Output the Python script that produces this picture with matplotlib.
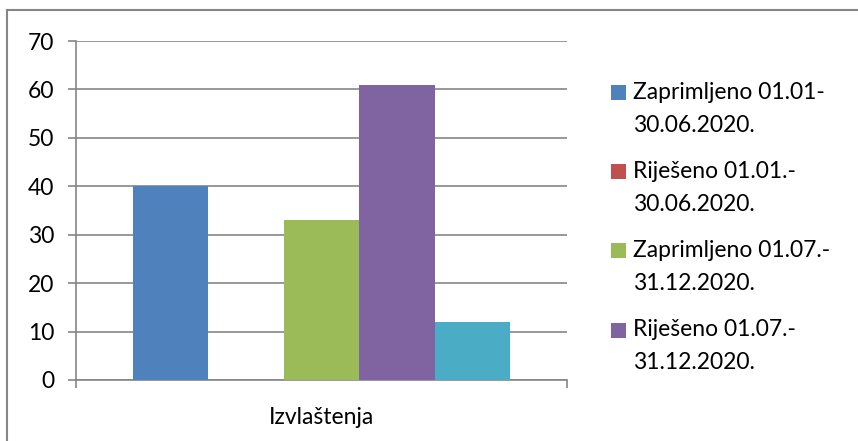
import matplotlib

matplotlib.use("Agg")
import matplotlib.pyplot as plt
from matplotlib.legend_handler import HandlerBase
from matplotlib.lines import Line2D
from matplotlib.patches import Patch, Rectangle

plt.rcParams["font.family"] = ["Lato", "DejaVu Sans"]

CATEGORY = "Izvlaštenja"
SERIES_LABELS = [
    "Zaprimljeno 01.01-\n30.06.2020.",
    "Riješeno 01.01.-\n30.06.2020.",
    "Zaprimljeno 01.07.-\n31.12.2020.",
    "Riješeno 01.07.-\n31.12.2020.",
    "",
]
SERIES_VALUES = [40, 0, 33, 61, 12]
SERIES_COLORS = ["#4F81BD", "#C0504D", "#9BBB59", "#8064A2", "#4BACC6"]
Y_TICKS = [0, 10, 20, 30, 40, 50, 60, 70]

GRAY = "#868686"
FONT_SIZE = 16.5
LINE_GAP = 1.7


class TopSquare(HandlerBase):
    # excel puts the legend key next to the first text line, not the middle
    def create_artists(self, legend, orig_handle, xdescent, ydescent,
                       width, height, fontsize, trans):
        side = 10.8
        y = -ydescent + height / 2 - side / 2 + 12.0
        rect = Rectangle((-xdescent, y), side, side,
                         facecolor=orig_handle.get_facecolor(), edgecolor="none",
                         transform=trans)
        return [rect]


fig = plt.figure(figsize=(8.58, 4.41), dpi=100)
ax = fig.add_axes([76 / 858, 61 / 441, 491 / 858, 339 / 441])

n = len(SERIES_VALUES)
bar_w = 1 / (n + 1.5)
for i, (val, col) in enumerate(zip(SERIES_VALUES, SERIES_COLORS)):
    ax.bar((i - (n - 1) / 2) * bar_w, val, width=bar_w, color=col, zorder=3)

ax.set_xlim(-0.5, 0.5)
ax.set_ylim(0, 70)
ax.set_yticks(Y_TICKS)
ax.set_xticks([-0.5, 0.5])
ax.set_xticklabels([])
ax.yaxis.grid(True, color=GRAY, linewidth=1.2, zorder=0)
for side in ["top", "right"]:
    ax.spines[side].set_visible(False)
for side in ["left", "bottom"]:
    ax.spines[side].set_color(GRAY)
    ax.spines[side].set_linewidth(1.2)
ax.tick_params(axis="both", direction="out", length=5.8, width=1.2, color=GRAY,
               labelsize=FONT_SIZE, labelcolor="black")
ax.tick_params(axis="y", pad=10)
ax.text(0.5, -0.11, CATEGORY, transform=ax.transAxes, ha="center", va="center",
        fontsize=FONT_SIZE)

handles = [Patch(facecolor=c) for c in SERIES_COLORS[:4]]
leg = fig.legend(handles, SERIES_LABELS[:4], loc="upper left",
                 bbox_to_anchor=(611 / 858, 1 - 82 / 441), frameon=False,
                 fontsize=FONT_SIZE, borderpad=0, borderaxespad=0,
                 handlelength=0.66, handletextpad=0.3, labelspacing=1.1,
                 handler_map={Patch: TopSquare()})
for t in leg.get_texts():
    t.set_linespacing(LINE_GAP)

# outer chart border, only top and left edges are in the crop
fig.add_artist(Line2D([7 / 858, 1], [1 - 10 / 441] * 2, color=GRAY,
                      linewidth=1.5, transform=fig.transFigure))
fig.add_artist(Line2D([7 / 858] * 2, [0, 1 - 10 / 441], color=GRAY,
                      linewidth=1.5, transform=fig.transFigure))

fig.savefig("out.png", dpi=100)
